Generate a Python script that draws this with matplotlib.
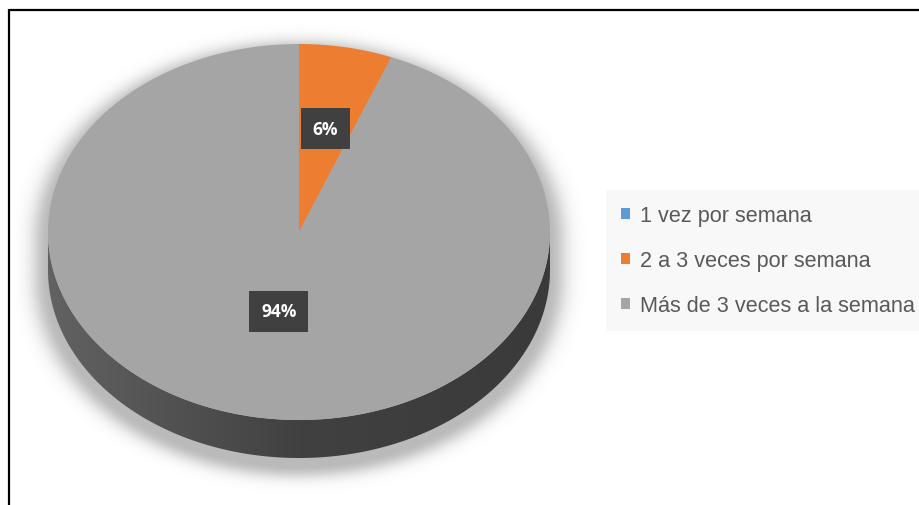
import numpy as np
import matplotlib
matplotlib.use("Agg")
import matplotlib.pyplot as plt
from matplotlib.patches import Patch, Polygon
from matplotlib.colors import to_rgb

# Survey data: how often per week
categories = ["1 vez por semana", "2 a 3 veces por semana", "Más de 3 veces a la semana"]
values = [0, 6, 94]
colors = ["#5b9bd5", "#ed7d31", "#a5a5a5"]

W, H = 919, 506
fig = plt.figure(figsize=(W / 100, H / 100), dpi=100)
fig.patch.set_facecolor("white")

# Background axes in pixel units (frame line + legend)
bg = fig.add_axes([0, 0, 1, 1])
bg.set_xlim(0, W)
bg.set_ylim(H, 0)
bg.axis("off")
bg.plot([9, W], [11, 11], color="black", lw=1.6, solid_capstyle="butt")
bg.plot([9, 9], [10, H], color="black", lw=1.6, solid_capstyle="butt")

# Pie geometry (pixels): centre, radii of the top face, thickness
cx, cy, rx, ry, depth = 299, 233, 251, 188, 38
px0, px1, py0, py1 = 15, 590, 25, 495
ax = fig.add_axes([px0 / W, 1 - py1 / H, (px1 - px0) / W, (py1 - py0) / H])
xl = ((px0 - cx) / rx, (px1 - cx) / rx)
yl = ((cy - py1) / ry, (cy - py0) / ry)
dz = depth / ry

# Soft shadow around the disc
gx = np.linspace(px0, px1, 400)
gy = np.linspace(py0, py1, 330)
X, Y = np.meshgrid(gx, gy)
sy = Y - 8
dyv = np.where(sy < cy, sy - cy, np.where(sy > cy + depth, sy - cy - depth, 0))
r = np.sqrt(((X - cx) / rx) ** 2 + (dyv / ry) ** 2)
dist = np.clip((r - 1) * 230, 0, None)
alpha = 0.45 * np.exp(-(dist / 16.0) ** 2)
alpha[r < 1] = 0.45
rgba = np.zeros(X.shape + (4,))
rgba[..., :3] = 0.4
rgba[..., 3] = alpha
ax.imshow(rgba, extent=(xl[0], xl[1], yl[0], yl[1]), origin="upper",
          aspect="auto", zorder=0, interpolation="bilinear")

# Side wall of the disc (front half), shaded from left to right
th = np.linspace(np.pi, 2 * np.pi, 200)
upper = np.column_stack([np.cos(th), np.sin(th)])
lower = np.column_stack([np.cos(th[::-1]), np.sin(th[::-1]) - dz])
side = Polygon(np.vstack([upper, lower]), closed=True, facecolor="none",
               edgecolor="none", zorder=1)
ax.add_patch(side)
grad_x = np.linspace(-1, 1, 300)
c_left, c_mid, c_right = np.array(to_rgb("#626262")), np.array(to_rgb("#414141")), np.array(to_rgb("#3a3a3a"))
t = (grad_x + 1) / 2
shade = np.where(t[:, None] < 0.5,
                 c_left + (c_mid - c_left) * (t[:, None] / 0.5),
                 c_mid + (c_right - c_mid) * ((t[:, None] - 0.5) / 0.5))
img = ax.imshow(shade[None, :, :], extent=(-1, 1, -1 - dz, 0), aspect="auto",
                zorder=1, interpolation="bilinear")
img.set_clip_path(side)

# Top face
def pct_label(p):
    return f"{p:.0f}%" if p > 0.5 else ""

wedges, texts, autotexts = ax.pie(
    values, colors=colors, startangle=90, counterclock=False,
    autopct=pct_label, pctdistance=0.5, radius=1,
    wedgeprops=dict(linewidth=0, zorder=2),
    textprops=dict(color="white", fontsize=12.5, fontweight="bold",
                   family=["Open Sans", "DejaVu Sans"]),
)
label_dist = [0.5, 0.56, 0.43]
for w, at, d in zip(wedges, autotexts, label_dist):
    mid = np.deg2rad((w.theta1 + w.theta2) / 2)
    at.set_position((d * np.cos(mid), d * np.sin(mid)))
    at.set_zorder(5)
    if at.get_text():
        at.set_bbox(dict(boxstyle="square,pad=0.68", facecolor="#404040",
                         edgecolor="none"))

ax.set_aspect("auto")
ax.set_xlim(*xl)
ax.set_ylim(*yl)
ax.axis("off")

# Legend
handles = [Patch(facecolor=c, edgecolor="none") for c in colors]
leg = bg.legend(handles, categories, loc="upper left",
                bbox_to_anchor=(606 / W, 1 - 191 / H),
                bbox_transform=fig.transFigure,
                frameon=True, fancybox=False, framealpha=1,
                facecolor="#f8f8f8", edgecolor="none",
                prop=dict(family=["Liberation Sans", "DejaVu Sans"], size=15.6),
                handlelength=0.4, handleheight=0.4, handletextpad=0.45,
                labelspacing=1.1, borderpad=0.7, borderaxespad=0)
for txt in leg.get_texts():
    txt.set_color("#595959")

fig.savefig("out.png", dpi=100, facecolor="white")
